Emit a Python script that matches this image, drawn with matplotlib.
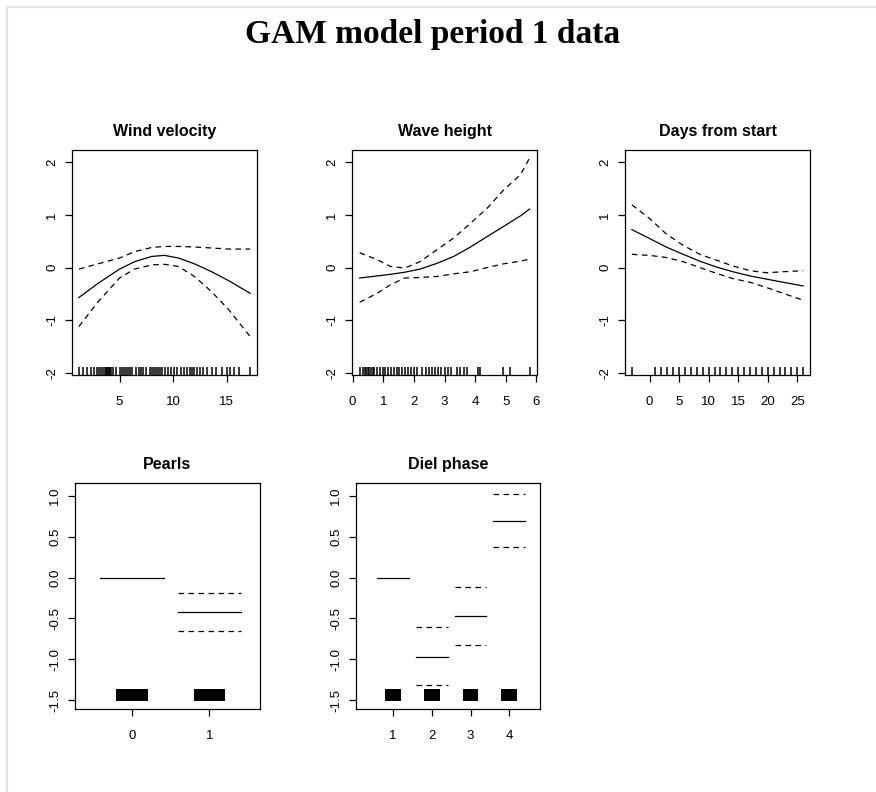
import matplotlib
matplotlib.use("Agg")
import matplotlib.pyplot as plt
from matplotlib.lines import Line2D

plt.rcParams["axes.unicode_minus"] = False

# Smooth terms (x, fit, upper, lower)
wind_x = [1.2, 3.0, 5.0, 6.4, 8.0, 9.2, 10.5, 12.0, 13.6, 15.2, 17.2]
wind_fit = [-0.57, -0.30, -0.03, 0.11, 0.21, 0.23, 0.18, 0.07, -0.08, -0.25, -0.49]
wind_up = [-0.03, 0.07, 0.18, 0.30, 0.38, 0.40, 0.40, 0.39, 0.37, 0.35, 0.35]
wind_lo = [-1.12, -0.65, -0.20, -0.03, 0.05, 0.06, 0.02, -0.17, -0.46, -0.80, -1.31]
wind_rug = [1.2, 1.6, 2.0, 2.3, 2.6, 2.9, 3.1, 3.3, 3.5, 3.6, 3.7, 3.8, 3.9, 4.0,
            4.1, 4.2, 4.4, 4.7, 5.0, 5.2, 5.4, 5.6, 5.8, 6.0, 6.2, 6.5, 6.8, 7.0,
            7.2, 7.5, 7.8, 8.0, 8.2, 8.4, 8.6, 8.8, 9.0, 9.2, 9.5, 9.8, 10.1, 10.4,
            10.7, 11.0, 11.3, 11.6, 11.8, 12.0, 12.2, 12.5, 12.8, 13.2, 13.6, 14.0,
            14.6, 15.0, 15.3, 15.7, 16.2, 17.2]

wave_x = [0.23, 0.8, 1.23, 1.7, 2.2, 2.76, 3.3, 3.85, 4.4, 4.93, 5.48, 5.78]
wave_fit = [-0.20, -0.16, -0.13, -0.09, -0.03, 0.08, 0.21, 0.39, 0.59, 0.78, 0.98, 1.11]
wave_up = [0.28, 0.15, 0.02, -0.01, 0.11, 0.34, 0.56, 0.84, 1.13, 1.47, 1.76, 2.08]
wave_lo = [-0.66, -0.49, -0.33, -0.20, -0.19, -0.17, -0.12, -0.08, 0.0, 0.07, 0.12, 0.16]
wave_rug = [0.25, 0.35, 0.4, 0.45, 0.5, 0.55, 0.6, 0.65, 0.7, 0.8, 0.9, 1.0, 1.05,
            1.15, 1.25, 1.35, 1.45, 1.5, 1.6, 1.7, 1.8, 1.9, 2.0, 2.1, 2.25, 2.4,
            2.5, 2.6, 2.7, 2.8, 2.9, 3.0, 3.1, 3.2, 3.4, 3.5, 3.65, 3.75, 4.1, 4.15,
            4.9, 5.15, 5.8]

days_x = [-3, 0, 2.8, 5.7, 8.5, 11.3, 14.1, 17.0, 19.8, 22.6, 26]
days_fit = [0.72, 0.55, 0.39, 0.25, 0.12, 0.01, -0.08, -0.16, -0.22, -0.28, -0.35]
days_up = [1.19, 0.93, 0.64, 0.42, 0.25, 0.14, 0.03, -0.06, -0.10, -0.08, -0.06]
days_lo = [0.25, 0.23, 0.19, 0.11, 0.0, -0.11, -0.21, -0.28, -0.38, -0.49, -0.62]
days_rug = [-3] + list(range(1, 27))

# Factor terms
pearl_levels = [0, 1]
pearl_fit = [0.0, -0.42]
pearl_up = [None, -0.19]
pearl_lo = [None, -0.65]

diel_levels = [1, 2, 3, 4]
diel_fit = [0.0, -0.97, -0.47, 0.70]
diel_up = [None, -0.61, -0.12, 1.03]
diel_lo = [None, -1.32, -0.83, 0.37]

W, H = 876, 792
fig = plt.figure(figsize=(W / 100, H / 100), dpi=100)

SANS = "Liberation Sans"
DASH = (0, (4.5, 3.5))


def make_ax(left, top, right, bottom):
    ax = fig.add_axes([left / W, 1 - bottom / H, (right - left) / W, (bottom - top) / H])
    for s in ax.spines.values():
        s.set_linewidth(0.9)
    ax.tick_params(direction="out", length=5, width=0.9, labelsize=9.5)
    ax.tick_params(axis="x", pad=10)
    ax.tick_params(axis="y", pad=5)
    return ax


def style_ticks(ax):
    for lab in ax.get_xticklabels() + ax.get_yticklabels():
        lab.set_fontfamily(SANS)
    for lab in ax.get_yticklabels():
        lab.set_rotation(90)
        lab.set_va("center")


def smooth_panel(ax, x, fit, up, lo, rug, title, xlim, xticks):
    ax.plot(x, fit, color="black", lw=0.9)
    ax.plot(x, up, color="black", lw=0.9, linestyle=DASH)
    ax.plot(x, lo, color="black", lw=0.9, linestyle=DASH)
    ax.vlines(rug, 0, 0.035, transform=ax.get_xaxis_transform(), color="black", lw=1.1)
    ax.set_xlim(*xlim)
    ax.set_ylim(-2.04, 2.23)
    ax.set_yticks([-2, -1, 0, 1, 2])
    ax.set_xticks(xticks)
    ax.set_title(title, fontsize=11.5, fontweight="bold", family=SANS, pad=10)
    style_ticks(ax)


def factor_panel(ax, levels, fit, up, lo, title, xlim):
    for lv, f, u, l in zip(levels, fit, up, lo):
        ax.plot([lv - 0.41, lv + 0.41], [f, f], color="black", lw=0.9)
        if u is not None:
            ax.plot([lv - 0.41, lv + 0.41], [u, u], color="black", lw=0.9, linestyle=DASH)
            ax.plot([lv - 0.41, lv + 0.41], [l, l], color="black", lw=0.9, linestyle=DASH)
    ax.bar(levels, 0.14, bottom=-1.51, width=0.41, color="black")
    ax.set_xlim(*xlim)
    ax.set_ylim(-1.61, 1.16)
    ax.set_yticks([-1.5, -1.0, -0.5, 0.0, 0.5, 1.0])
    ax.set_yticklabels(["-1.5", "-1.0", "-0.5", "0.0", "0.5", "1.0"])
    ax.set_xticks(levels)
    ax.set_title(title, fontsize=11.5, fontweight="bold", family=SANS, pad=10)
    style_ticks(ax)


ax1 = make_ax(72, 150, 257, 375)
smooth_panel(ax1, wind_x, wind_fit, wind_up, wind_lo, wind_rug, "Wind velocity",
             (0.56, 17.84), [5, 10, 15])

ax2 = make_ax(352, 150, 537, 375)
smooth_panel(ax2, wave_x, wave_fit, wave_up, wave_lo, wave_rug, "Wave height",
             (-0.02, 6.02), [0, 1, 2, 3, 4, 5, 6])

ax3 = make_ax(625, 150, 810, 375)
smooth_panel(ax3, days_x, days_fit, days_up, days_lo, days_rug, "Days from start",
             (-4.16, 27.16), [0, 5, 10, 15, 20, 25])

ax4 = make_ax(75, 483, 260, 709)
factor_panel(ax4, pearl_levels, pearl_fit, pearl_up, pearl_lo, "Pearls", (-0.73, 1.65))

ax5 = make_ax(356, 483, 540, 709)
factor_panel(ax5, diel_levels, diel_fit, diel_up, diel_lo, "Diel phase", (0.05, 4.79))

fig.text(433 / W, 1 - 35 / H, "GAM model period 1 data", ha="center", va="center",
         fontsize=24, fontweight="bold", family="Liberation Serif")

# light frame of the screenshot
fig.add_artist(Line2D([6.5 / W, 1], [1 - 6.5 / H, 1 - 6.5 / H], color="#e4e4e4", lw=1.5))
fig.add_artist(Line2D([6.5 / W, 6.5 / W], [0, 1 - 6.5 / H], color="#e4e4e4", lw=1.5))

fig.savefig("out.png", dpi=100)
